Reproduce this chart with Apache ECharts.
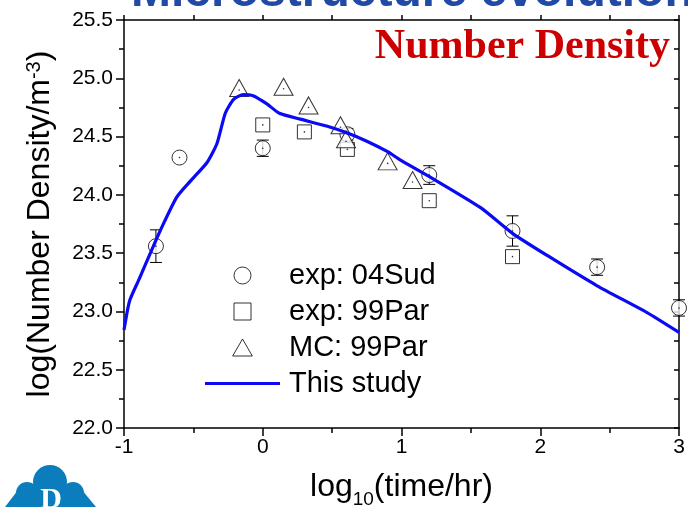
<!DOCTYPE html>
<html>
<head>
<meta charset="utf-8">
<script src="https://cdn.jsdelivr.net/npm/echarts@6/dist/echarts.min.js"></script>
<style>
  html, body { margin: 0; padding: 0; background: #fff; }
  #chart { width: 688px; height: 507px; }
</style>
</head>
<body>
<div id="chart"></div>
<script>
// Experimental data: 04Sud (with error bars)
const sudX = [-0.77, -0.60, 0.00, 0.61, 1.20, 1.80, 2.41, 3.00];
const sudY = [23.56, 24.32, 24.40, 24.52, 24.17, 23.69, 23.38, 23.03];
const sudErr = [0.14, 0, 0.07, 0.05, 0.08, 0.13, 0.07, 0.07];

// Experimental data: 99Par
const parX = [0.00, 0.30, 0.61, 1.20, 1.80];
const parY = [24.60, 24.54, 24.39, 23.95, 23.47];

// Monte Carlo results: 99Par
const mcX = [-0.17, 0.15, 0.33, 0.56, 0.60, 0.90, 1.08];
const mcY = [24.90, 24.91, 24.75, 24.58, 24.46, 24.27, 24.11];

// Model curve (this study)
const modelX = [-1.00, -0.96, -0.89, -0.81, -0.74, -0.62, -0.52, -0.40, -0.33, -0.27, -0.21, -0.14, -0.07,
                0.03, 0.12, 0.27, 0.46, 0.61, 0.75, 0.90, 0.99, 1.21, 1.57, 1.80, 2.05, 2.41, 2.77, 3.00];
const modelY = [22.84, 23.09, 23.28, 23.50, 23.69, 23.98, 24.12, 24.28, 24.44, 24.70, 24.82, 24.86, 24.85,
                24.78, 24.70, 24.65, 24.59, 24.53, 24.46, 24.37, 24.30, 24.15, 23.89, 23.67, 23.48, 23.22, 22.99, 22.82];

const seriesNames = ['exp: 04Sud', 'exp: 99Par', 'MC: 99Par', 'This study'];
const yTicks = { min: 22.0, max: 25.5, step: 0.5 };
const xTicks = { min: -1, max: 3, step: 1 };

const zip = (xs, ys) => xs.map((x, i) => [x, ys[i]]);
const allMarkers = zip(sudX, sudY).concat(zip(parX, parY), zip(mcX, mcY));

const FONT = '"Liberation Sans", Arial, Helvetica, sans-serif';
const LINE_BLUE = '#0a0af5';
const markerStyle = { color: '#ffffff', borderColor: '#000000', borderWidth: 1 };
const openIcon = { color: '#ffffff', borderColor: '#000000', borderWidth: 1 };

const chart = echarts.init(document.getElementById('chart'), null, { renderer: 'canvas' });

chart.setOption({
  animation: false,
  backgroundColor: '#ffffff',
  grid: { left: 124, right: 9, top: 20, bottom: 79, containLabel: false, outerBoundsMode: 'none' },
  legend: {
    orient: 'vertical',
    left: 205,
    top: 261,
    padding: 0,
    itemWidth: 75,
    itemHeight: 17,
    itemGap: 7,
    itemTextGap: 10,
    selectedMode: false,
    data: [
      { name: seriesNames[0], icon: 'circle', itemStyle: openIcon },
      { name: seriesNames[1], icon: 'path://M0,0 L16,0 L16,16 L0,16 Z', itemStyle: openIcon },
      { name: seriesNames[2], icon: 'path://M11,0 L22,19 L0,19 Z', itemStyle: openIcon },
      { name: seriesNames[3], icon: 'path://M0,0 L75,0 L75,3 L0,3 Z', itemStyle: { color: LINE_BLUE, borderWidth: 0 } }
    ],
    textStyle: { fontFamily: FONT, fontSize: 29, color: '#000', padding: [0, 0, 0, 4] }
  },
  xAxis: [
    {
      type: 'value', position: 'bottom',
      min: xTicks.min, max: xTicks.max, interval: xTicks.step,
      name: '{a|log}{b|10}{a|(time/hr)}',
      nameLocation: 'middle', nameGap: 38,
      nameTextStyle: {
        rich: {
          a: { fontFamily: FONT, fontSize: 32, lineHeight: 32, color: '#000', verticalAlign: 'bottom', padding: [8, 0, 6, 0] },
          b: { fontFamily: FONT, fontSize: 19, lineHeight: 19, color: '#000', verticalAlign: 'bottom' }
        }
      },
      axisLine: { onZero: false, lineStyle: { color: '#000', width: 1.5 } },
      axisTick: { inside: false, length: 8, lineStyle: { color: '#000', width: 1.5 } },
      minorTick: { show: true, splitNumber: 2, length: 5, lineStyle: { color: '#000', width: 1.5 } },
      axisLabel: { fontFamily: FONT, fontSize: 21, color: '#000', margin: 9 },
      splitLine: { show: false }
    },
    {
      type: 'value', position: 'top',
      min: xTicks.min, max: xTicks.max, interval: xTicks.step / 2,
      axisLine: { onZero: false, lineStyle: { color: '#000', width: 1.5 } },
      axisTick: { inside: false, length: 5, lineStyle: { color: '#000', width: 1.5 } },
      axisLabel: { show: false },
      splitLine: { show: false }
    }
  ],
  yAxis: [
    {
      type: 'value', position: 'left',
      min: yTicks.min, max: yTicks.max, interval: yTicks.step,
      name: '{a|log(Number Density/m}{b|-3}{a|)}',
      nameLocation: 'middle', nameGap: 68, nameRotate: 90,
      nameTextStyle: {
        rich: {
          a: { fontFamily: FONT, fontSize: 32, lineHeight: 32, color: '#000', verticalAlign: 'bottom', padding: [9, 0, 0, 0] },
          b: { fontFamily: FONT, fontSize: 20, lineHeight: 20, color: '#000', verticalAlign: 'top' }
        }
      },
      axisLine: { onZero: false, lineStyle: { color: '#000', width: 1.5 } },
      axisTick: { inside: false, length: 8, lineStyle: { color: '#000', width: 1.5 } },
      minorTick: { show: true, splitNumber: 2, length: 5, lineStyle: { color: '#000', width: 1.5 } },
      axisLabel: { fontFamily: FONT, fontSize: 21, color: '#000', margin: 11, formatter: v => v.toFixed(1) },
      splitLine: { show: false }
    },
    {
      type: 'value', position: 'right',
      min: yTicks.min, max: yTicks.max, interval: yTicks.step / 2,
      axisLine: { onZero: false, lineStyle: { color: '#000', width: 1.5 } },
      axisTick: { inside: true, length: 5, lineStyle: { color: '#000', width: 1.5 } },
      axisLabel: { show: false },
      splitLine: { show: false }
    }
  ],
  series: [
    {
      // vertical error bars with caps for the 04Sud measurements
      name: 'errors',
      type: 'custom',
      z: 1,
      data: sudX.map((x, i) => [x, sudY[i], sudErr[i]]),
      renderItem: function (params, api) {
        const x = api.value(0), y = api.value(1), e = api.value(2);
        if (!e) return null;
        const top = api.coord([x, y + e]);
        const bot = api.coord([x, y - e]);
        const cap = 6;
        const style = { stroke: '#000', lineWidth: 1 };
        return {
          type: 'group',
          children: [
            { type: 'line', shape: { x1: top[0], y1: top[1], x2: bot[0], y2: bot[1] }, style },
            { type: 'line', shape: { x1: top[0] - cap, y1: top[1], x2: top[0] + cap, y2: top[1] }, style },
            { type: 'line', shape: { x1: bot[0] - cap, y1: bot[1], x2: bot[0] + cap, y2: bot[1] }, style }
          ]
        };
      }
    },
    {
      name: seriesNames[0], type: 'scatter', z: 2,
      symbol: 'circle', symbolSize: 15,
      itemStyle: markerStyle,
      data: zip(sudX, sudY)
    },
    {
      name: seriesNames[1], type: 'scatter', z: 3,
      symbol: 'rect', symbolSize: 14,
      itemStyle: markerStyle,
      data: zip(parX, parY)
    },
    {
      name: seriesNames[2], type: 'scatter', z: 4,
      symbol: 'triangle', symbolSize: [19, 17], symbolOffset: [0, -2],
      itemStyle: markerStyle,
      data: zip(mcX, mcY)
    },
    {
      // centre dots of the open markers
      name: 'centres', type: 'scatter', z: 5,
      symbol: 'circle', symbolSize: 1.6,
      itemStyle: { color: '#000' },
      data: allMarkers
    },
    {
      name: seriesNames[3], type: 'line', z: 6,
      showSymbol: false, symbol: 'none',
      smooth: 0.2,
      lineStyle: { color: LINE_BLUE, width: 3.2 },
      itemStyle: { color: LINE_BLUE },
      data: zip(modelX, modelY)
    }
  ],
  graphic: [
    {
      type: 'text', x: 131, y: -7, z: 10,
      style: {
        text: 'Microstructure evolution',
        font: 'bold 48px "Liberation Sans", Arial, sans-serif',
        fill: '#2149a6', align: 'left', verticalAlign: 'middle'
      }
    },
    {
      type: 'text', x: 670, y: 47, z: 10,
      style: {
        text: 'Number Density',
        font: 'bold 42px "Liberation Serif", "Times New Roman", serif',
        fill: '#cc0000', align: 'right', verticalAlign: 'middle'
      }
    },
    {
      type: 'group', z: 10,
      children: [
        { type: 'circle', shape: { cx: 50, cy: 482, r: 17 }, style: { fill: '#0b7dbd' } },
        { type: 'circle', shape: { cx: 27, cy: 493, r: 11 }, style: { fill: '#0b7dbd' } },
        { type: 'circle', shape: { cx: 73, cy: 493, r: 11 }, style: { fill: '#0b7dbd' } },
        { type: 'polygon', shape: { points: [[5, 507], [18, 490], [82, 490], [96, 507]] }, style: { fill: '#0b7dbd' } },
        {
          type: 'text', x: 51, y: 500,
          style: { text: 'D', font: 'bold 30px "Liberation Serif", serif', fill: '#ffffff', align: 'center', verticalAlign: 'middle' }
        }
      ]
    }
  ]
});
</script>
</body>
</html>
